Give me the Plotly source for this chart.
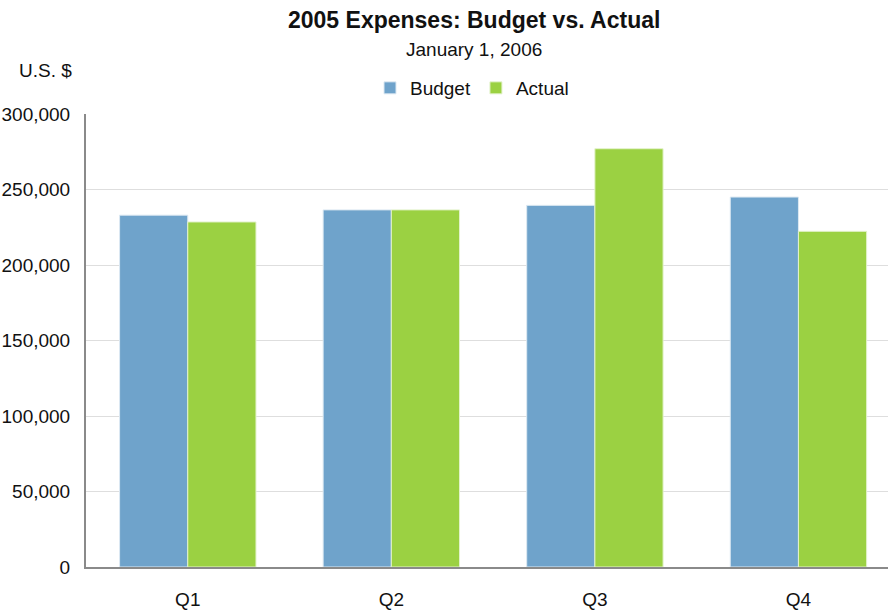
import plotly.graph_objects as go

categories = ["Q1", "Q2", "Q3", "Q4"]
budget = [233000, 236500, 239500, 245000]
actual = [228500, 236500, 277000, 222300]
y_ticks = [0, 50000, 100000, 150000, 200000, 250000, 300000]
y_tick_labels = ["0", "50,000", "100,000", "150,000", "200,000", "250,000", "300,000"]

FONT = "Liberation Sans Narrow, Arial Narrow, Liberation Sans, sans-serif"

W, H = 888, 612
ML, MR, MT, MB = 86, 0, 114, 45

fig = go.Figure()
fig.add_trace(go.Bar(name="Budget", x=categories, y=budget,
                     marker=dict(color="#6FA3CB", line=dict(color="#DDE9F2", width=1))))
fig.add_trace(go.Bar(name="Actual", x=categories, y=actual,
                     marker=dict(color="#9BD142", line=dict(color="#E3F2CB", width=1))))

fig.update_layout(
    width=W, height=H,
    paper_bgcolor="white", plot_bgcolor="white",
    font=dict(family=FONT, size=19, color="#111"),
    margin=dict(l=ML, r=MR, t=MT, b=MB, autoexpand=False),
    barmode="group", bargap=0.33, bargroupgap=0,
    showlegend=True,
    legend=dict(orientation="h", x=472 / W, xanchor="center", y=1 - 88 / H, yanchor="middle",
                xref="container", yref="container", font=dict(size=19),
                itemwidth=30, traceorder="normal", tracegroupgap=0,
                bgcolor="rgba(0,0,0,0)"),
)

pw = W - ML - MR
ph = H - MT - MB

def px_to_paper(px, py):
    return (px - ML) / pw, (H - MB - py) / ph

for text, px, py, size in [
    ("<b>2005 Expenses: Budget vs. Actual</b>", 474, 20, 23),
    ("January 1, 2006", 474, 50, 19),
    ("U.S. $", 45, 71, 19),
]:
    ax, ay = px_to_paper(px, py)
    fig.add_annotation(text=text, x=ax, y=ay, xref="paper", yref="paper",
                       xanchor="center", yanchor="middle", showarrow=False,
                       font=dict(size=size))

fig.update_xaxes(range=[-0.5, 3.44], showline=True, linecolor="#8A8A8A", linewidth=2,
                 ticks="", showgrid=False, ticklabelstandoff=14, automargin=False)
fig.update_yaxes(range=[0, 300000], tickvals=y_ticks, ticktext=y_tick_labels,
                 showline=True, linecolor="#8A8A8A", linewidth=2,
                 showgrid=True, gridcolor="#DEDEDE", gridwidth=1, zeroline=False,
                 ticks="", ticklabelstandoff=10, automargin=False)

fig.write_html("out.html", config={"displayModeBar": False},
               post_script="document.body.style.margin='0';document.body.style.overflow='hidden';")
